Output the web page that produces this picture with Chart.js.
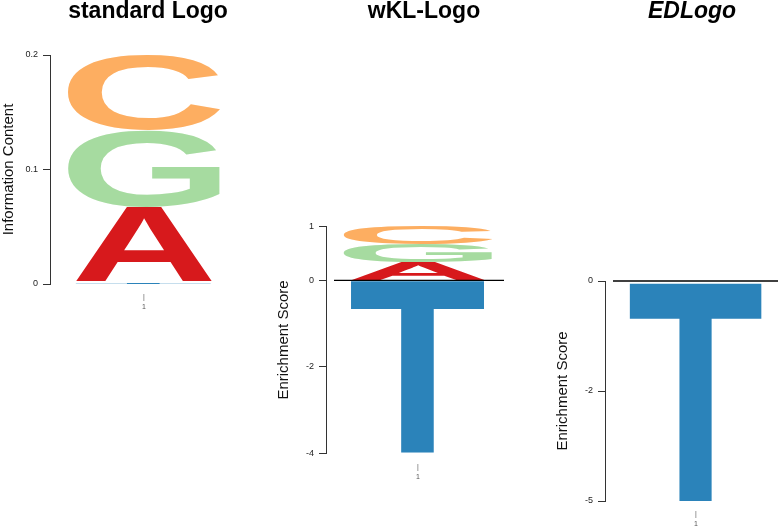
<!DOCTYPE html>
<html>
<head>
<meta charset="utf-8">
<script src="https://cdn.jsdelivr.net/npm/chart.js@4.4.0/dist/chart.umd.min.js"></script>
<style>
  html, body { margin: 0; padding: 0; background: #fff; overflow: hidden; }
  #wrap { position: relative; width: 778px; height: 528px; overflow: hidden; }
  canvas { position: absolute; top: 0; }
</style>
</head>
<body>
<div id="wrap">
  <canvas id="c1" width="296" height="320" style="left:0px"></canvas>
  <canvas id="c2" width="324" height="490" style="left:262px"></canvas>
  <canvas id="c3" width="294" height="528" style="left:545px"></canvas>
</div>
<script>
// stacking order, bottom to top
const positions = ["1"];
const letters = ["T", "A", "G", "C"];
const standardIC = [0.002, 0.0655, 0.067, 0.0655];
const wklScore = [-3.96, 0.41, 0.41, 0.41];
const edScore = [-4.95, 0, 0, 0];
const standardTicks = [0, 0.1, 0.2];

const letterColors = { A: "#d7191c", C: "#fdae61", G: "#a6dba0", T: "#2b83ba" };
const letterWidths = { A: 0.73, C: 0.81, G: 0.81, T: 0.73 };

function drawLetter(ctx, ch, color, x, y, w, h) {
  if (h <= 0 || w <= 0) return;
  ctx.save();
  ctx.font = 'bold 200px "Liberation Sans", Arial, sans-serif';
  ctx.textAlign = "left";
  ctx.textBaseline = "alphabetic";
  const m = ctx.measureText(ch);
  const gw = m.actualBoundingBoxLeft + m.actualBoundingBoxRight;
  const gh = m.actualBoundingBoxAscent + m.actualBoundingBoxDescent;
  ctx.translate(x, y);
  ctx.scale(w / gw, h / gh);
  ctx.fillStyle = color;
  ctx.fillText(ch, m.actualBoundingBoxLeft, m.actualBoundingBoxAscent);
  ctx.restore();
}

const logoLetters = {
  id: "logoLetters",
  afterDatasetsDraw(chart) {
    const ctx = chart.ctx;
    chart.data.datasets.forEach((ds, i) => {
      const meta = chart.getDatasetMeta(i);
      meta.data.forEach((el) => {
        const p = el.getProps(["x", "y", "base", "width"], true);
        const top = Math.min(p.y, p.base);
        const h = Math.abs(p.base - p.y);
        drawLetter(ctx, ds.label, letterColors[ds.label], p.x - p.width / 2, top, p.width, h);
      });
    });
  },
};

const zeroLine = {
  id: "zeroLine",
  afterDatasetsDraw(chart, args, opts) {
    if (!opts.show) return;
    const { ctx, chartArea } = chart;
    const y = chart.scales.y.getPixelForValue(0);
    ctx.save();
    ctx.strokeStyle = "#000";
    ctx.lineWidth = 1.3;
    ctx.beginPath();
    ctx.moveTo(chartArea.left + 8, y);
    ctx.lineTo(chartArea.right - 6, y);
    ctx.stroke();
    ctx.restore();
  },
};

function makeLogo(id, opt) {
  const canvas = document.getElementById(id);
  const datasets = letters.map((l, i) => ({
    label: l,
    data: [opt.values[i]],
    backgroundColor: "rgba(0,0,0,0)",
    borderWidth: 0,
    barPercentage: letterWidths[l],
    categoryPercentage: 1,
  }));

  return new Chart(canvas.getContext("2d"), {
    type: "bar",
    data: { labels: positions, datasets },
    options: {
      responsive: false,
      animation: false,
      devicePixelRatio: 1,
      layout: { padding: 0 },
      plugins: {
        legend: { display: false },
        tooltip: { enabled: false },
        zeroLine: { show: opt.zeroLine },
        title: {
          display: true,
          text: opt.title,
          color: "#000",
          font: { family: '"Liberation Sans", Arial, sans-serif', size: 23, weight: "bold", style: opt.italic ? "italic" : "normal", lineHeight: 1 },
          padding: { top: 0, bottom: opt.titleGap },
        },
      },
      scales: {
        x: {
          stacked: true,
          offset: true,
          grid: { display: false, drawTicks: false },
          border: { display: false },
          ticks: {
            color: "#555",
            padding: 8.6,
            font: { family: '"Liberation Sans", Arial, sans-serif', size: 7, lineHeight: 1.4 },
            callback: (v, i) => ["|", positions[i]],
          },
          afterFit: (s) => { s.height = opt.xHeight; },
        },
        y: {
          stacked: true,
          min: opt.min,
          max: opt.max,
          afterBuildTicks: (s) => { s.ticks = opt.ticks.map((v) => ({ value: v })); },
          grid: { display: true, drawOnChartArea: false, drawTicks: true, tickLength: 7, color: "#333" },
          border: { display: true, color: "#333", width: 1 },
          ticks: {
            color: "#222",
            padding: 5,
            font: { family: '"Liberation Sans", Arial, sans-serif', size: 9 },
            callback: opt.tickLabel,
          },
          title: {
            display: true,
            text: opt.yTitle,
            color: "#111",
            font: { family: '"Liberation Sans", Arial, sans-serif', size: 15 },
            padding: { top: opt.yTitlePad, bottom: 0 },
          },
          afterFit: (s) => { s.width = opt.leftWidth; },
        },
        pad: {
          type: "linear",
          position: "right",
          display: true,
          grid: { display: false },
          border: { display: false },
          ticks: { display: false },
          afterFit: (s) => { s.width = opt.rightWidth; },
        },
      },
    },
    plugins: [logoLetters, zeroLine],
  });
}

function scoreTicks(values) {
  const pos = values.filter((v) => v > 0).reduce((a, b) => a + b, 0);
  const neg = values.filter((v) => v < 0).reduce((a, b) => a + b, 0);
  const t = [];
  if (pos > 0) t.push(pos);
  t.push(0, neg / 2, neg);
  return { pos, neg, ticks: t };
}

makeLogo("c1", {
  title: "standard Logo",
  values: standardIC,
  min: 0,
  max: 0.2,
  ticks: standardTicks,
  tickLabel: (v) => (v === 0 ? "0" : String(+v.toFixed(1))),
  yTitle: "Information Content",
  yTitlePad: 0,
  leftWidth: 50,
  rightWidth: 58,
  xHeight: 36,
  titleGap: 32,
  zeroLine: false,
});

const wkl = scoreTicks(wklScore);
makeLogo("c2", {
  title: "wKL-Logo",
  values: wklScore,
  min: wkl.neg,
  max: wkl.pos,
  ticks: wkl.ticks,
  tickLabel: (v) => String(Math.round(v)),
  yTitle: "Enrichment Score",
  yTitlePad: 13,
  leftWidth: 64,
  rightWidth: 76,
  xHeight: 36.7,
  titleGap: 203.7,
  zeroLine: true,
});

const ed = scoreTicks(edScore);
makeLogo("c3", {
  title: "EDLogo",
  italic: true,
  values: edScore,
  min: ed.neg,
  max: 0,
  ticks: ed.ticks,
  tickLabel: (v) => String(Math.round(v)),
  yTitle: "Enrichment Score",
  yTitlePad: 9,
  leftWidth: 60,
  rightWidth: 52,
  xHeight: 27,
  titleGap: 258,
  zeroLine: true,
});
</script>
</body>
</html>
